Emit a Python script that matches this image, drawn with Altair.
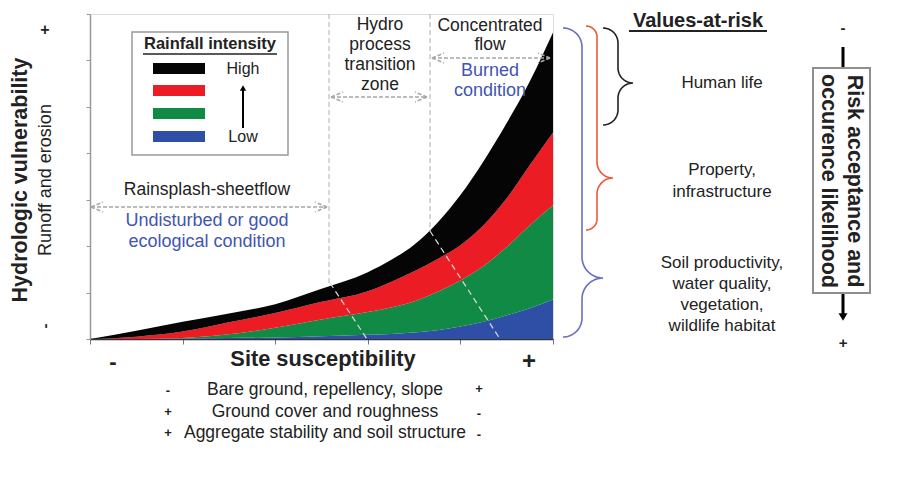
import altair as alt
import numpy as np
import pandas as pd

# ---------------- data ----------------
# site susceptibility (x) and cumulative tops of the stacked rainfall-intensity bands
susceptibility = [0, 0.5, 1, 1.5, 2, 2.5, 3, 3.25, 3.5, 3.75, 4, 4.25, 4.5, 4.75, 5]
low_top = [0, 0, 0.01, 0.02, 0.03, 0.06, 0.09, 0.11, 0.14, 0.19, 0.27, 0.37, 0.51, 0.66, 0.85]
moderate_top = [0, 0, 0.02, 0.10, 0.24, 0.42, 0.58, 0.68, 0.81, 1.01, 1.26, 1.57, 1.98, 2.45, 2.88]
elevated_top = [0, 0.05, 0.16, 0.36, 0.56, 0.80, 1.03, 1.23, 1.46, 1.72, 2.02, 2.45, 3.03, 3.75, 4.45]
high_top = [0, 0.18, 0.37, 0.55, 0.75, 1.08, 1.44, 1.70, 2.03, 2.50, 3.10, 3.83, 4.65, 5.55, 6.60]

band_names = ["Low", "Moderate", "Elevated", "High"]
band_colors = ["#2f4fa6", "#108a44", "#ec1c24", "#050505"]
x_ticks = [0, 1, 2, 3, 4, 5]
y_ticks = [0, 1, 2, 3, 4, 5, 6, 7]

FONT = "Liberation Sans"
DARK = "#222222"
BLUE_TXT = "#3f55b3"

# ---------------- layout helpers ----------------
W, H = 463, 325          # plot area in px
PX0, PY0 = 90, 339       # page px of data origin
XU, YU = W / 5.0, H / 7.0


def dx(px):
    return (px - PX0) / XU


def dy(py):
    return (PY0 - py) / YU


xs = alt.Scale(domain=[0, 5], nice=False, zero=False)
ys = alt.Scale(domain=[0, 7], nice=False, zero=False)
xaxis = alt.Axis(values=x_ticks, labels=False, title=None, grid=False, tickSize=5,
                 domainColor="#333333", tickColor="#777777", domainWidth=1.5)
yaxis = alt.Axis(values=y_ticks, labels=False, title=None, grid=False, tickSize=4,
                 domainColor="#999999", tickColor="#999999", domainWidth=1.5)


def X(f):
    return alt.X(f, type="quantitative", scale=xs, axis=xaxis)


def Y(f):
    return alt.Y(f, type="quantitative", scale=ys, axis=yaxis)


def text_layer(items, size, color=DARK, weight="normal", angle=0):
    df = pd.DataFrame({"t": [i[0] for i in items],
                       "x": [dx(i[1]) for i in items],
                       "y": [dy(i[2]) for i in items]})
    kw = dict(fontSize=size, color=color, fontWeight=weight, font=FONT,
              align="center", baseline="middle")
    if angle:
        kw["angle"] = angle
    return alt.Chart(df).mark_text(**kw).encode(x=X("x"), y=Y("y"), text="t:N")


def seg_layer(segs, color, width, dash=None):
    df = pd.DataFrame([{"x": dx(a), "y": dy(b), "x2": dx(c), "y2": dy(d)} for a, b, c, d in segs])
    kw = dict(color=color, strokeWidth=width)
    if dash:
        kw["strokeDash"] = dash
    return alt.Chart(df).mark_rule(**kw).encode(x=X("x"), y=Y("y"), x2=alt.X2("x2"), y2=alt.Y2("y2"))


def rect_layer(rects, fill, stroke=None, sw=0):
    df = pd.DataFrame([{"x": dx(a), "y": dy(b), "x2": dx(c), "y2": dy(d)} for a, b, c, d in rects])
    kw = dict(fill=fill, opacity=1)
    if stroke:
        kw["stroke"] = stroke
        kw["strokeWidth"] = sw
    return alt.Chart(df).mark_rect(**kw).encode(x=X("x"), y=Y("y"), x2=alt.X2("x2"), y2=alt.Y2("y2"))


def dbl_arrow(x1, x2, y, h=5, w=12):
    return [(x1, y, x2, y), (x1, y, x1 + w, y - h), (x1, y, x1 + w, y + h),
            (x2, y, x2 - w, y - h), (x2, y, x2 - w, y + h)]


def brace_layer(x0, xsp, xp, top, mid, bot, color, n=14):
    t = np.linspace(0, np.pi / 2, n)
    r1 = xsp - x0
    r2 = xp - xsp
    px = np.concatenate([x0 + r1 * np.sin(t), xp - r2 * np.cos(t),
                         xp - r2 * np.sin(t), x0 + r1 * np.cos(t)])
    py = np.concatenate([top + r1 - r1 * np.cos(t), mid - r2 + r2 * np.sin(t),
                         mid + r2 - r2 * np.cos(t), bot - r1 + r1 * np.sin(t)])
    df = pd.DataFrame({"i": np.arange(len(px)), "x": dx(px), "y": dy(py)})
    return alt.Chart(df).mark_line(color=color, strokeWidth=1.6).encode(
        x=X("x"), y=Y("y"), order="i:Q")


def head_layer(px, py, shape, size):
    df = pd.DataFrame({"x": [dx(px)], "y": [dy(py)]})
    return alt.Chart(df).mark_point(shape=shape, filled=True, size=size, color="black",
                                    opacity=1).encode(x=X("x"), y=Y("y"))


# ---------------- stacked areas ----------------
tops = [low_top, moderate_top, elevated_top, high_top]
rows = []
for k, name in enumerate(band_names):
    lo = [0.0] * len(susceptibility) if k == 0 else tops[k - 1]
    for xv, l, h in zip(susceptibility, lo, tops[k]):
        rows.append({"band": name, "x": xv, "lo": l, "hi": h})
area_df = pd.DataFrame(rows)

areas = alt.Chart(area_df).mark_area(interpolate="monotone", opacity=1).encode(
    x=X("x"), y=Y("hi"), y2=alt.Y2("lo"),
    color=alt.Color("band:N", scale=alt.Scale(domain=band_names, range=band_colors), legend=None),
)

layers = [areas]

# zone separators (dashed) and their continuation across the bands
layers.append(seg_layer([(329, 14, 329, 283), (430, 14, 430, 231)], "#bbbbbb", 1.2, [5, 3]))
layers.append(seg_layer([(330, 283, 367, 339), (430, 231, 500, 339)], "#dddddd", 1.2, [6, 4]))

# double-headed process arrows
layers.append(seg_layer(dbl_arrow(91, 327, 207) + dbl_arrow(331, 427, 97) + dbl_arrow(432, 550, 58),
                        "#a8a8a8", 1.6, [4, 2]))

# legend box
layers.append(rect_layer([(132, 32, 288, 155)], "white", "#9a9a9a", 1.5))
legend_bars = [(153, 63, 205, 74), (153, 85, 205, 96), (153, 108, 205, 119), (153, 131, 205, 142)]
for (r, c) in zip(legend_bars, band_colors[::-1]):
    layers.append(rect_layer([r], c))
layers.append(seg_layer([(243, 128, 243, 90)], "black", 2))
layers.append(head_layer(243, 88, "triangle-up", 40))
layers.append(seg_layer([(143, 54, 277, 54)], DARK, 1.4))
layers.append(text_layer([("Rainfall intensity", 210, 44)], 16.5, weight="bold"))
layers.append(text_layer([("High", 243, 69), ("Low", 243, 137)], 16))

# plot annotations
layers.append(text_layer([("Rainsplash-sheetflow", 207, 190),
                          ("Hydro", 380, 25), ("process", 380, 45), ("transition", 380, 65), ("zone", 380, 85),
                          ("Concentrated", 490, 26), ("flow", 490, 45)], 17.5))
layers.append(text_layer([("Undisturbed or good", 207, 221), ("ecological condition", 207, 242),
                          ("Burned", 490, 71), ("condition", 490, 91)], 18, color=BLUE_TXT))

# y axis titles
layers.append(text_layer([("Hydrologic vulnerability", 21, 180)], 21.5, weight="bold", angle=270))
layers.append(text_layer([("Runoff and erosion", 46, 180)], 18, angle=270))
layers.append(text_layer([("+", 45, 30)], 16, weight="bold"))
layers.append(text_layer([("-", 45, 326)], 15, weight="bold", angle=270))

# x axis title and factors
layers.append(text_layer([("Site susceptibility", 323, 359)], 21.8, weight="bold"))
layers.append(text_layer([("-", 113, 362)], 22, weight="bold"))
layers.append(text_layer([("+", 529, 362)], 24, weight="bold"))
layers.append(text_layer([("Bare ground, repellency, slope", 325, 390),
                          ("Ground cover and roughness", 325, 412),
                          ("Aggregate stability and soil structure", 325, 433)], 17.5))
layers.append(text_layer([("-", 168, 391), ("+", 479, 389), ("+", 168, 412), ("-", 479, 414),
                          ("+", 168, 433), ("-", 479, 435)], 13, weight="bold"))

# values at risk
layers.append(brace_layer(563, 582, 603, 28, 278, 337, "#6a6fc2"))
layers.append(brace_layer(586, 597, 613, 26, 178, 230, "#ea5a3a"))
layers.append(brace_layer(603, 618, 633, 28, 83, 125, "#222222"))
layers.append(text_layer([("Values-at-risk", 698, 21)], 20, weight="bold"))
layers.append(seg_layer([(629, 31, 767, 31)], DARK, 1.8))
layers.append(text_layer([("Human life", 722, 83),
                          ("Property,", 722, 170), ("infrastructure", 722, 192),
                          ("Soil productivity,", 722, 263), ("water quality,", 722, 284),
                          ("vegetation,", 722, 305), ("wildlife habitat", 722, 326)], 17))

# risk acceptance box and arrow
layers.append(seg_layer([(843, 47, 843, 68), (843, 293, 843, 314)], "black", 3))
layers.append(head_layer(843, 317, "triangle-down", 80))
layers.append(rect_layer([(813, 68, 870, 293)], "white", "#8f8f8f", 2))
layers.append(text_layer([("Risk acceptance and", 854, 181), ("occurence likelihood", 828, 181)],
                         21.5, weight="bold", angle=90))
layers.append(text_layer([("-", 843, 28), ("+", 843, 343)], 15, weight="bold"))

chart = alt.layer(*layers).properties(
    width=W, height=H,
    padding={"left": 82, "top": 6, "right": 340, "bottom": 125},
    autosize=alt.AutoSizeParams(type="none"),
).configure_view(stroke="#9a9a9a", strokeWidth=1.5).configure(background="white")

chart.save("out.html", embed_options={"renderer": "svg", "actions": False})
